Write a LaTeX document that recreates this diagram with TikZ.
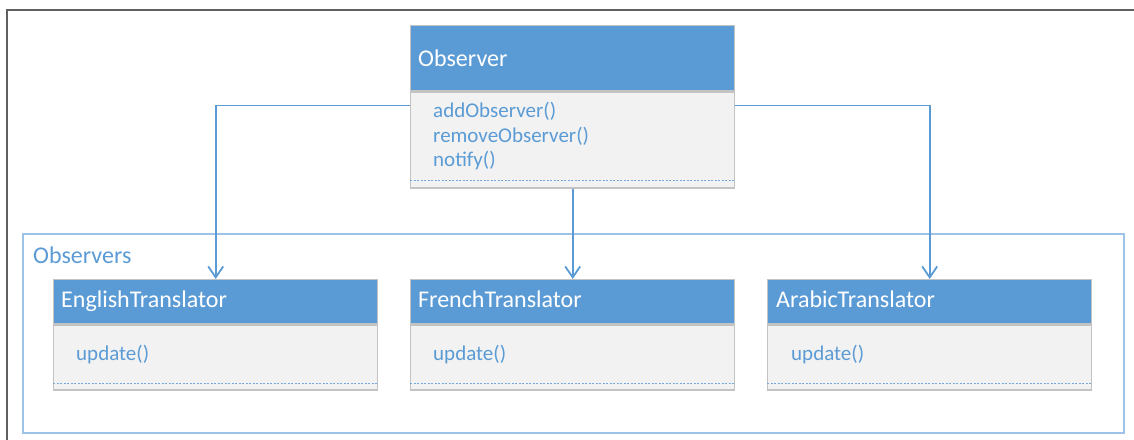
\documentclass[tikz,border=0pt]{standalone}
\usepackage{fontspec}
\setmainfont{Carlito}
\usetikzlibrary{arrows.meta}
\definecolor{hdrblue}{HTML}{5B9BD5}
\definecolor{txtblue}{HTML}{5B9BD5}
\definecolor{bodygray}{HTML}{F2F2F2}
\definecolor{edgegray}{HTML}{C3C3C3}
\definecolor{grpblue}{HTML}{9DC3E6}
\definecolor{framegray}{HTML}{606060}
\tikzset{
  hdr/.style={draw=edgegray, line width=1.4pt, fill=hdrblue, minimum width=324pt, inner sep=0pt, anchor=north west},
  bodybox/.style={draw=edgegray, line width=1.4pt, fill=bodygray, minimum width=324pt, inner sep=0pt, anchor=north},
  title/.style={text=white, font=\fontsize{24}{28}\selectfont, inner sep=0pt, anchor=base west},
  meth/.style={text=txtblue, font=\fontsize{21}{25}\selectfont, inner sep=0pt, anchor=base west},
  dotline/.style={draw=txtblue!85, line width=1.1pt, dash pattern=on 2pt off 1.5pt},
  conn/.style={draw=hdrblue, line width=1.8pt, -{Straight Barb[length=11pt,width=15pt,line width=1.8pt]}},
  grp/.style={draw=grpblue, line width=1.8pt, inner sep=0pt, anchor=north west, minimum width=1101pt, minimum height=199pt},
  frame/.style={draw=framegray, line width=2pt}
}
\begin{document}
\begin{tikzpicture}[x=1pt,y=-1pt]
\useasboundingbox (0,0) rectangle (1134,439);
\draw[frame] (7,440) -- (7,10) -- (1135,10);
% group container
\node[grp] (grp) at (22,233) {};
\node[meth, text=txtblue, font=\fontsize{24}{28}\selectfont] (grplbl) at (33,263) {Observers};
% Observer
\node[hdr, minimum height=65pt] (obsH) at (410,25) {};
\node[bodybox, minimum height=96pt] (obsB) at (obsH.south) {};
\node[title] (obsT) at (418,66) {Observer};
\node[meth] (m1) at (433,117) {addObserver()};
\node[meth] (m2) at (433,142) {removeObserver()};
\node[meth] (m3) at (433,166) {notify()};
\draw[dotline] ([yshift=8pt]obsB.south west) -- ([yshift=8pt]obsB.south east);
% English
\node[hdr, minimum height=44pt] (engH) at (53,279) {};
\node[bodybox, minimum height=65pt] (engB) at (engH.south) {};
\node[title] (engT) at (61,307) {EnglishTranslator};
\node[meth] (engM) at (76,360) {update()};
\draw[dotline] ([yshift=7pt]engB.south west) -- ([yshift=7pt]engB.south east);
% French
\node[hdr, minimum height=44pt] (frH) at (410,279) {};
\node[bodybox, minimum height=65pt] (frB) at (frH.south) {};
\node[title] (frT) at (418,307) {FrenchTranslator};
\node[meth] (frM) at (433,360) {update()};
\draw[dotline] ([yshift=7pt]frB.south west) -- ([yshift=7pt]frB.south east);
% Arabic
\node[hdr, minimum height=44pt] (arH) at (767,279) {};
\node[bodybox, minimum height=65pt] (arB) at (arH.south) {};
\node[title] (arT) at (776,307) {ArabicTranslator};
\node[meth] (arM) at (791,360) {update()};
\draw[dotline] ([yshift=7pt]arB.south west) -- ([yshift=7pt]arB.south east);
% connectors
\draw[conn] ([yshift=-14pt]obsB.north west) -| (engH.north);
\draw[conn] ([yshift=-14pt]obsB.north east) -| (arH.north);
\draw[conn] (obsB.south) -- (frH.north);
\end{tikzpicture}
\end{document}
